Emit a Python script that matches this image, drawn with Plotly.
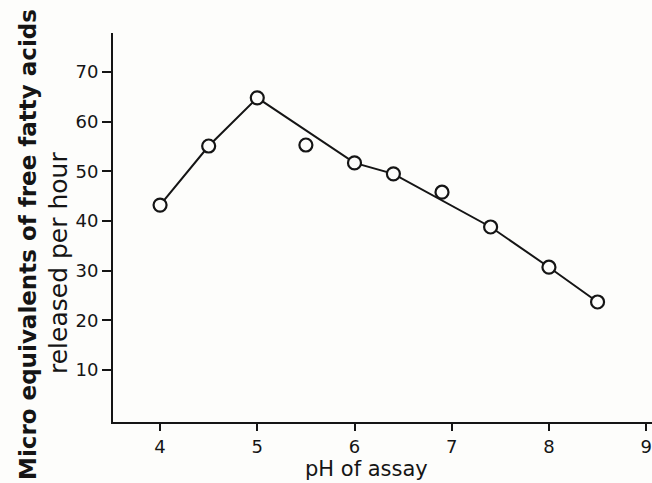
import plotly.graph_objects as go

# Data
ph = [4.0, 4.5, 5.0, 5.5, 6.0, 6.4, 6.9, 7.4, 8.0, 8.5]
ffa = [43.2, 55.1, 64.8, 55.3, 51.7, 49.5, 45.8, 38.8, 30.7, 23.7]
# indices of points that the drawn line passes by instead of joining
off_line = [3, 6]

x_ticks = [4, 5, 6, 7, 8, 9]
y_ticks = [10, 20, 30, 40, 50, 60, 70]

line_x = [x for i, x in enumerate(ph) if i not in off_line]
line_y = [y for i, y in enumerate(ffa) if i not in off_line]
off_x = [ph[i] for i in off_line]
off_y = [ffa[i] for i in off_line]

ink = "#151515"
bg = "#fdfdfb"

marker = dict(symbol="circle", size=13, color=bg, line=dict(color=ink, width=2.2))

fig = go.Figure()
fig.add_trace(go.Scatter(x=off_x, y=off_y, mode="markers", marker=marker, showlegend=False))
fig.add_trace(go.Scatter(x=line_x, y=line_y, mode="lines",
                         line=dict(color=ink, width=2), showlegend=False))
fig.add_trace(go.Scatter(x=line_x, y=line_y, mode="markers", marker=marker, showlegend=False))

fig.update_layout(
    width=652, height=483,
    margin=dict(l=113, r=0, t=33, b=61),
    paper_bgcolor=bg, plot_bgcolor=bg,
    xaxis=dict(range=[3.516, 9.06], tickvals=x_ticks, ticktext=[str(v) for v in x_ticks],
               showgrid=False, zeroline=False, showline=True, linecolor=ink, linewidth=2,
               ticks="outside", ticklen=7, tickwidth=2, tickcolor=ink, ticklabelstandoff=0,
               ticklabeloverflow="allow",
               tickfont=dict(family="DejaVu Sans", size=18, color=ink)),
    yaxis=dict(range=[-0.46, 77.85], tickvals=y_ticks, ticktext=[str(v) for v in y_ticks],
               showgrid=False, zeroline=False, showline=True, linecolor=ink, linewidth=2,
               ticks="outside", ticklen=9, tickwidth=2, tickcolor=ink,
               tickfont=dict(family="DejaVu Sans", size=18, color=ink)),
    annotations=[
        dict(text="<b>Micro equivalents of free fatty acids</b>", textangle=-90,
             xref="paper", yref="paper", x=0, y=0.5, xanchor="center", yanchor="middle",
             showarrow=False, xshift=-85, yshift=-17.5,
             font=dict(family="DejaVu Sans", size=23, color=ink)),
        dict(text="released per hour", textangle=-90,
             xref="paper", yref="paper", x=0, y=0.5, xanchor="center", yanchor="middle",
             showarrow=False, xshift=-55, yshift=-35.5,
             font=dict(family="DejaVu Sans", size=25, color=ink)),
        dict(text="pH of assay", xref="paper", yref="paper", x=0, y=0,
             xanchor="center", yanchor="middle", showarrow=False,
             xshift=253, yshift=-47,
             font=dict(family="DejaVu Sans", size=21, color=ink)),
    ],
)

fig.write_html("out.html", config={"displayModeBar": False},
               post_script="document.body.style.margin='0';document.body.style.overflow='hidden';")
